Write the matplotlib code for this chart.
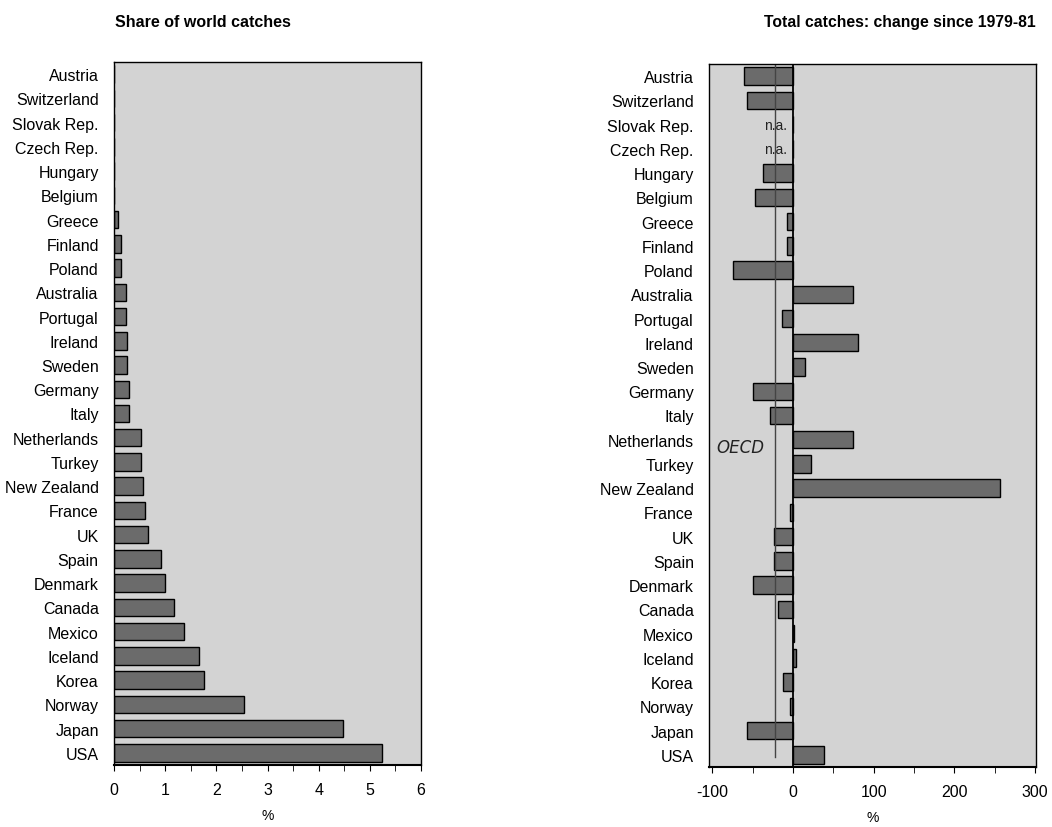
import matplotlib.pyplot as plt
from matplotlib.ticker import MultipleLocator

plt.rcParams['font.family'] = ['Liberation Sans', 'DejaVu Sans']
plt.rcParams['axes.unicode_minus'] = False

# countries, top to bottom
countries = ['Austria', 'Switzerland', 'Slovak Rep.', 'Czech Rep.', 'Hungary', 'Belgium',
             'Greece', 'Finland', 'Poland', 'Australia', 'Portugal', 'Ireland', 'Sweden',
             'Germany', 'Italy', 'Netherlands', 'Turkey', 'New Zealand', 'France', 'UK',
             'Spain', 'Denmark', 'Canada', 'Mexico', 'Iceland', 'Korea', 'Norway', 'Japan', 'USA']

# share of world catches (%)
share = [0, 0, 0, 0, 0, 0,
         0.08, 0.14, 0.14, 0.23, 0.23, 0.26, 0.26,
         0.29, 0.29, 0.52, 0.52, 0.56, 0.61, 0.67,
         0.91, 0.99, 1.17, 1.37, 1.66, 1.75, 2.54, 4.47, 5.23]

# change since 1979-81 (%), None = n.a.
change = [-61, -57, None, None, -37, -47,
          -8, -8, -74, 74, -14, 80, 15,
          -49, -29, 74, 22, 256, -4, -24,
          -24, -49, -18, 1.5, 3.5, -13, -4, -57, 38]

oecd_avg = -22

bar_col = '#6b6b6b'
bg = '#d3d3d3'
ypos = list(range(len(countries)))

fig = plt.figure(figsize=(10.52, 8.28), dpi=100)
ax1 = fig.add_axes([0.1084, 0.0749, 0.2918, 0.849])
ax2 = fig.add_axes([0.674, 0.0725, 0.3108, 0.849])

for ax in (ax1, ax2):
    ax.set_facecolor(bg)
    ax.set_yticks(ypos)
    ax.set_yticklabels(countries, fontsize=11.5)
    ax.tick_params(axis='y', length=0, pad=11)
    ax.tick_params(axis='x', which='both', direction='out', length=4, labelsize=11.5, pad=8)
    ax.set_ylim(len(countries) - 0.5, -0.5)
    ax.set_xlabel('%', fontsize=10, labelpad=8)
    for s in ax.spines.values():
        s.set_linewidth(1)
    ax.spines['bottom'].set_linewidth(1.5)

# left panel
ax1.barh(ypos, share, height=0.72, color=bar_col, edgecolor='black', linewidth=1)
ax1.set_xlim(0, 6)
ax1.xaxis.set_major_locator(MultipleLocator(1))
ax1.xaxis.set_minor_locator(MultipleLocator(0.5))
fig.text(0.193, 0.973, 'Share of world catches', fontsize=11.5, fontweight='bold',
         ha='center', va='center')

# right panel
vals = [v if v is not None else 0 for v in change]
ax2.barh(ypos, vals, height=0.72, color=bar_col, edgecolor='black', linewidth=1)
for i, v in enumerate(change):
    if v is None:
        ax2.text(oecd_avg, i, 'n.a.', fontsize=10, ha='center', va='center', color='#222222')
ax2.axvline(0, color='black', linewidth=1.3)
ax2.plot([oecd_avg, oecd_avg], [len(countries) - 0.9, -0.5], color='#444444', linewidth=1)
ax2.text(-95, 15.3, 'OECD', fontsize=12, style='italic', family='DejaVu Sans',
         ha='left', va='center', color='#222222')
ax2.set_xlim(-104, 301)
ax2.xaxis.set_major_locator(MultipleLocator(100))
ax2.xaxis.set_minor_locator(MultipleLocator(50))
fig.text(0.855, 0.973, 'Total catches: change since 1979-81', fontsize=11.3, fontweight='bold',
         ha='center', va='center')

fig.savefig('out.png', dpi=100)
